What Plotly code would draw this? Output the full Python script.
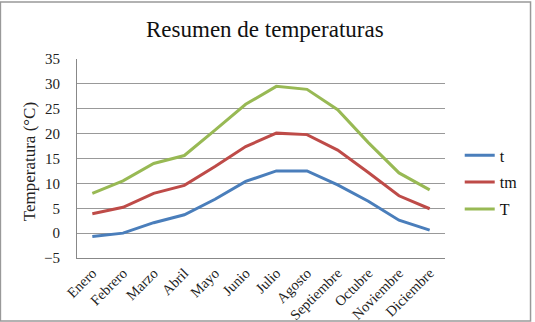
import plotly.graph_objects as go

meses = ["Enero", "Febrero", "Marzo", "Abril", "Mayo", "Junio", "Julio",
         "Agosto", "Septiembre", "Octubre", "Noviembre", "Diciembre"]
t_vals = [-0.7, 0.0, 2.1, 3.7, 6.8, 10.4, 12.5, 12.5, 9.7, 6.4, 2.6, 0.6]
tm_vals = [3.9, 5.2, 8.0, 9.6, 13.4, 17.4, 20.1, 19.8, 16.7, 12.2, 7.5, 4.9]
T_vals = [8.0, 10.5, 14.0, 15.6, 20.7, 25.9, 29.5, 28.9, 24.8, 18.2, 12.1, 8.7]
y_ticks = [-5, 0, 5, 10, 15, 20, 25, 30, 35]

series = [("t", t_vals, "#4A7EBB"), ("tm", tm_vals, "#BE4B48"), ("T", T_vals, "#98B954")]

fig = go.Figure()
for name, vals, col in series:
    fig.add_trace(go.Scatter(x=meses, y=vals, name=name, mode="lines",
                             line=dict(color=col, width=3), legendgroup=name))

font_fam = "Liberation Serif"
fig.update_layout(
    width=535, height=322,
    margin=dict(l=77, r=88, t=59, b=64),
    paper_bgcolor="white", plot_bgcolor="white",
    font=dict(family=font_fam, color="#222", size=14),
    title=dict(text="Resumen de temperaturas", x=0.495, xanchor="center",
               y=0.91, yanchor="middle", font=dict(size=23, family=font_fam, color="#111")),
    showlegend=True,
    legend=dict(x=1.04, xanchor="left", y=0.38, yanchor="middle",
                font=dict(size=16, family=font_fam, color="#111"),
                tracegroupgap=3, bgcolor="rgba(0,0,0,0)"),
    xaxis=dict(type="category", range=[-0.5, 11.5], tickangle=-45, automargin=False,
               showgrid=False, showline=True, linecolor="#888", linewidth=1,
               ticks="", tickfont=dict(size=14.5, family=font_fam, color="#222")),
    yaxis=dict(range=[-5, 35], tickvals=y_ticks, showgrid=True, gridcolor="#999",
               gridwidth=1, zeroline=False, showline=True, linecolor="#888", linewidth=1,
               automargin=False, ticks="outside", ticklen=13, tickcolor="white",
               tickfont=dict(size=15, family=font_fam, color="#222")),
    annotations=[dict(text="Temperatura (°C)", xref="paper", yref="paper",
                      x=(29 - 77) / 370, y=(258 - 162) / 199, xanchor="center", yanchor="middle",
                      textangle=-90, showarrow=False,
                      font=dict(size=17, family=font_fam, color="#222"))],
)
# outer chart border
fig.add_shape(type="rect", xref="paper", yref="paper",
              x0=-77/370, x1=(533-77)/370, y0=-63/199, y1=(258-2)/199,
              line=dict(color="#999", width=1.5), fillcolor="rgba(0,0,0,0)", layer="below")

fig.write_html("out.html")
